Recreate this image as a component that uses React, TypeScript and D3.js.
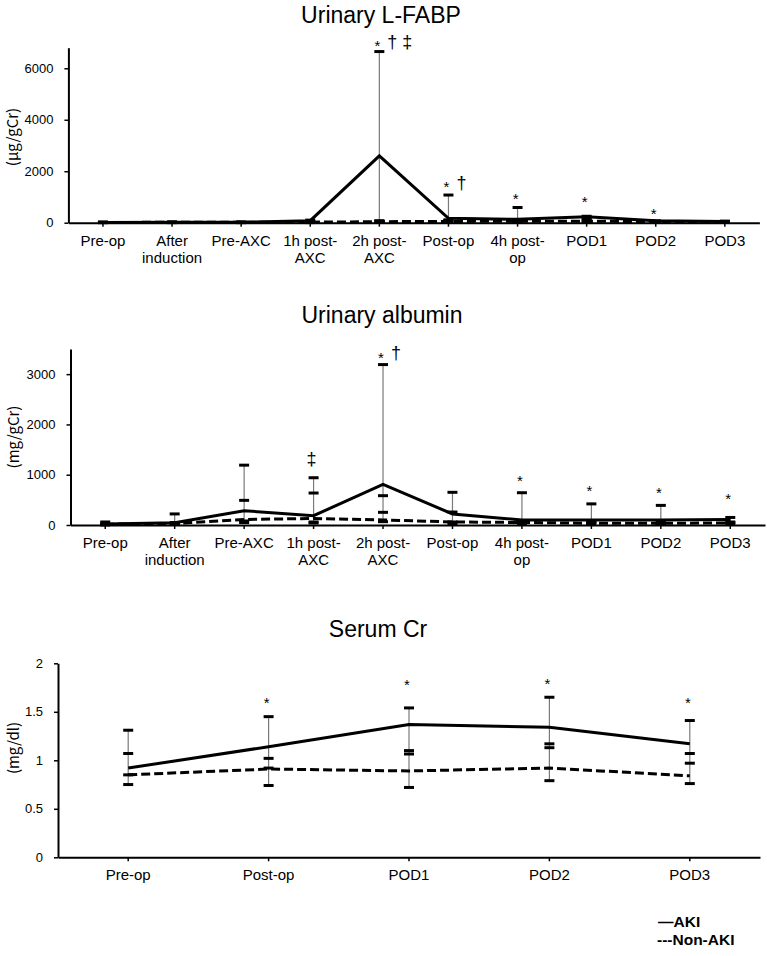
import React, { useEffect, useRef } from "react";
import * as d3 from "d3";

// ---------- Data ----------
const urineCategories = [
  "Pre-op",
  "After\ninduction",
  "Pre-AXC",
  "1h post-\nAXC",
  "2h post-\nAXC",
  "Post-op",
  "4h post-\nop",
  "POD1",
  "POD2",
  "POD3",
];
const serumCategories = ["Pre-op", "Post-op", "POD1", "POD2", "POD3"];

// Urinary L-FABP (µg/gCr)
const fabpTicks = [0, 2000, 4000, 6000];
const fabpAki = [10, 15, 15, 80, 2600, 170, 130, 235, 80, 50];
const fabpNonAki = [10, 15, 15, 20, 40, 50, 55, 60, 40, 30];
const fabpAkiHi = [25, 25, 25, 100, 6650, 1075, 590, 250, 70, 60];
const fabpAkiLo = [5, 5, 5, 40, 70, 110, 60, 150, 30, 20];
const fabpNonHi = [20, 25, 25, 40, 70, 90, 80, 90, 60, 50];
const fabpNonLo = [3, 5, 5, 5, 10, 20, 20, 30, 15, 10];
const fabpMarks = [
  { cat: 4, symbols: ["*", "†", "‡"], value: 6990 },
  { cat: 5, symbols: ["*", "†"], value: 1510 },
  { cat: 6, symbols: ["*"], value: 1077 },
  { cat: 7, symbols: ["*"], value: 948 },
  { cat: 8, symbols: ["*"], value: 494 },
];

// Urinary albumin (mg/gCr)
const albTicks = [0, 1000, 2000, 3000];
const albAki = [20, 45, 285, 185, 808, 220, 100, 100, 100, 110];
const albNonAki = [15, 30, 110, 130, 100, 60, 50, 35, 35, 40];
const albAkiHi = [60, 220, 1190, 940, 3190, 650, 642, 420, 390, 150];
const albAkiLo = [5, 30, 80, 60, 252, 60, 90, 60, 60, 50];
const albNonHi = [30, 50, 490, 636, 583, 258, 90, 60, 60, 60];
const albNonLo = [5, 15, 50, 40, 66, 30, 30, 20, 20, 20];
const albMarks = [
  { cat: 3, symbols: ["‡"], value: 1292 },
  { cat: 4, symbols: ["*", "†"], value: 3400 },
  { cat: 6, symbols: ["*"], value: 954 },
  { cat: 7, symbols: ["*"], value: 755 },
  { cat: 8, symbols: ["*"], value: 716 },
  { cat: 9, symbols: ["*"], value: 596 },
];

// Serum Cr (mg/dl)
const crTicks = [0, 0.5, 1, 1.5, 2];
const crAki = [0.92, 1.14, 1.37, 1.34, 1.17];
const crNonAki = [0.85, 0.91, 0.89, 0.92, 0.84];
const crAkiHi = [1.31, 1.45, 1.54, 1.65, 1.41];
const crAkiLo = [0.85, 1.02, 1.1, 1.17, 1.07];
const crNonHi = [1.07, 0.92, 1.065, 1.13, 0.97];
const crNonLo = [0.75, 0.74, 0.72, 0.79, 0.76];
const crMarks = [
  { cat: 1, symbols: ["*"], value: 1.63 },
  { cat: 2, symbols: ["*"], value: 1.81 },
  { cat: 3, symbols: ["*"], value: 1.82 },
  { cat: 4, symbols: ["*"], value: 1.63 },
];

const legendItems = ["—AKI", "---Non-AKI"];

// ---------- Chart drawing ----------
const FONT = "'Liberation Sans', Arial, Helvetica, sans-serif";
const LABEL_FONT = "'Noto Sans CJK KR', 'Noto Sans', sans-serif";

type Mark = { cat: number; symbols: string[]; value: number };
type ChartCfg = {
  title: string;
  titleX: number;
  titleY: number;
  yLabel: string;
  yLabelX: number;
  yLabelY: number;
  categories: string[];
  xRange: [number, number];
  yRange: [number, number];
  yMax: number;
  ticks: number[];
  aki: number[];
  non: number[];
  akiHi: number[];
  akiLo: number[];
  nonHi: number[];
  nonLo: number[];
  marks: Mark[];
};

function drawChart(svg: d3.Selection<SVGSVGElement, unknown, null, undefined>, cfg: ChartCfg) {
  const g = svg.append("g");
  const x = d3.scaleBand<number>()
    .domain(cfg.categories.map((_, i) => i))
    .range(cfg.xRange)
    .padding(0);
  const cx = (i: number) => (x(i) as number) + x.bandwidth() / 2;
  const y = d3.scaleLinear().domain([0, cfg.yMax]).range(cfg.yRange);

  // title
  g.append("text")
    .attr("x", cfg.titleX)
    .attr("y", cfg.titleY)
    .attr("text-anchor", "middle")
    .attr("font-family", FONT)
    .attr("font-size", 23)
    .attr("fill", "#000")
    .text(cfg.title);

  // y label
  g.append("text")
    .attr("transform", `translate(${cfg.yLabelX},${cfg.yLabelY}) rotate(-90)`)
    .attr("text-anchor", "middle")
    .attr("dominant-baseline", "central")
    .attr("font-family", LABEL_FONT)
    .attr("font-size", 15)
    .attr("fill", "#000")
    .text(cfg.yLabel);

  // y axis
  const yAxis = g.append("g")
    .attr("transform", `translate(${cfg.xRange[0]},0)`)
    .call(
      d3.axisLeft(y)
        .tickValues(cfg.ticks)
        .tickFormat((d) => String(d))
        .tickSize(4)
        .tickPadding(11)
        .tickSizeOuter(0)
    );
  yAxis.select(".domain").attr("stroke-width", 2).attr("stroke", "#000");
  yAxis.selectAll(".tick line").attr("stroke-width", 1.5).attr("stroke", "#000");
  yAxis.selectAll(".tick text")
    .attr("font-family", FONT)
    .attr("font-size", 13)
    .attr("fill", "#000");

  // x axis
  const xAxis = g.append("g")
    .attr("transform", `translate(0,${cfg.yRange[0]})`)
    .call(d3.axisBottom(x).tickSize(4).tickSizeOuter(0).tickFormat(() => ""));
  xAxis.select(".domain").attr("stroke-width", 2).attr("stroke", "#000");
  xAxis.selectAll(".tick line").attr("stroke-width", 1.5).attr("stroke", "#000");

  // x labels
  cfg.categories.forEach((c, i) => {
    const lines = c.split("\n");
    const t = g.append("text")
      .attr("x", cx(i))
      .attr("y", cfg.yRange[0] + 23)
      .attr("text-anchor", "middle")
      .attr("font-family", FONT)
      .attr("font-size", 15)
      .attr("fill", "#000");
    lines.forEach((ln, k) => {
      t.append("tspan").attr("x", cx(i)).attr("dy", k === 0 ? 0 : 17).text(ln);
    });
  });

  // error bar stems
  const stems = g.append("g");
  cfg.categories.forEach((_, i) => {
    const vals = [cfg.akiHi[i], cfg.akiLo[i], cfg.nonHi[i], cfg.nonLo[i]];
    const lo = d3.min(vals) as number;
    const hi = d3.max(vals) as number;
    stems.append("line")
      .attr("x1", cx(i)).attr("x2", cx(i))
      .attr("y1", y(lo)).attr("y2", y(hi))
      .attr("stroke", "#7a7a7a")
      .attr("stroke-width", 1.2);
  });

  // lines
  const line = d3.line<number>().x((_, i) => cx(i)).y((d) => y(d));
  g.append("path")
    .attr("d", line(cfg.non) as string)
    .attr("fill", "none")
    .attr("stroke", "#000")
    .attr("stroke-width", 3)
    .attr("stroke-dasharray", "9,4");
  g.append("path")
    .attr("d", line(cfg.aki) as string)
    .attr("fill", "none")
    .attr("stroke", "#000")
    .attr("stroke-width", 3)
    .attr("stroke-linejoin", "miter");

  // caps
  const caps = g.append("g");
  cfg.categories.forEach((_, i) => {
    [cfg.akiHi[i], cfg.akiLo[i], cfg.nonHi[i], cfg.nonLo[i]].forEach((v) => {
      caps.append("line")
        .attr("x1", cx(i) - 5).attr("x2", cx(i) + 5)
        .attr("y1", y(v)).attr("y2", y(v))
        .attr("stroke", "#000")
        .attr("stroke-width", 3);
    });
  });

  // significance marks
  const offsets = [-2, 13, 28];
  cfg.marks.forEach((m) => {
    m.symbols.forEach((s, k) => {
      const isStar = s === "*";
      const fs = isStar ? 15 : 18;
      const base = y(m.value) + (isStar ? 8.6 : 5);
      g.append("text")
        .attr("x", cx(m.cat) + offsets[k])
        .attr("y", base)
        .attr("text-anchor", "middle")
        .attr("font-family", FONT)
        .attr("font-size", fs)
        .attr("fill", "#000")
        .text(s);
    });
  });
}

export default function App() {
  const ref = useRef<SVGSVGElement | null>(null);

  useEffect(() => {
    if (!ref.current) return;
    const svg = d3.select(ref.current);
    svg.selectAll("*").remove();

    drawChart(svg, {
      title: "Urinary L-FABP",
      titleX: 381,
      titleY: 23,
      yLabel: "(µg/gCr)",
      yLabelX: 11,
      yLabelY: 137,
      categories: urineCategories,
      xRange: [68.4, 759.4],
      yRange: [222.7, 47.7],
      yMax: 6800,
      ticks: fabpTicks,
      aki: fabpAki,
      non: fabpNonAki,
      akiHi: fabpAkiHi,
      akiLo: fabpAkiLo,
      nonHi: fabpNonHi,
      nonLo: fabpNonLo,
      marks: fabpMarks,
    });

    drawChart(svg, {
      title: "Urinary albumin",
      titleX: 382,
      titleY: 323,
      yLabel: "(mg/gCr)",
      yLabelX: 12,
      yLabelY: 437,
      categories: urineCategories,
      xRange: [70.5, 765],
      yRange: [525, 349],
      yMax: 3500,
      ticks: albTicks,
      aki: albAki,
      non: albNonAki,
      akiHi: albAkiHi,
      akiLo: albAkiLo,
      nonHi: albNonHi,
      nonLo: albNonLo,
      marks: albMarks,
    });

    drawChart(svg, {
      title: "Serum Cr",
      titleX: 378,
      titleY: 637,
      yLabel: "(mg/dl)",
      yLabelX: 12,
      yLabelY: 748,
      categories: serumCategories,
      xRange: [58, 760],
      yRange: [857.3, 663.3],
      yMax: 2,
      ticks: crTicks,
      aki: crAki,
      non: crNonAki,
      akiHi: crAkiHi,
      akiLo: crAkiLo,
      nonHi: crNonHi,
      nonLo: crNonLo,
      marks: crMarks,
    });

    // legend
    legendItems.forEach((txt, i) => {
      svg.append("text")
        .attr("x", i === 0 ? 658 : 657)
        .attr("y", 927 + i * 18)
        .attr("font-family", FONT)
        .attr("font-weight", "bold")
        .attr("font-size", 15.5)
        .attr("fill", "#000")
        .text(txt);
    });
  }, []);

  return (
    <svg
      ref={ref}
      width={767}
      height={956}
      style={{ position: "absolute", left: 0, top: 0, background: "#fff" }}
    />
  );
}
